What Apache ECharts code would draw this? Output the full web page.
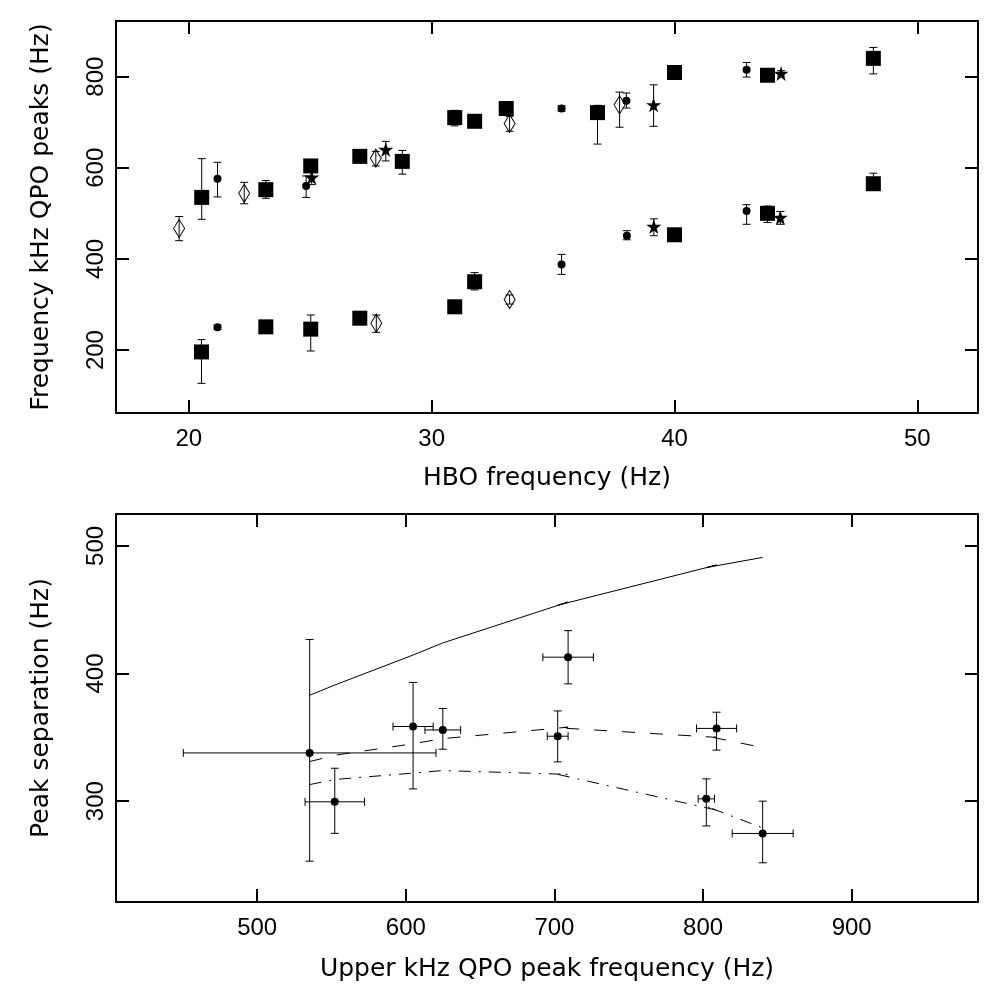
<!DOCTYPE html>
<html><head><meta charset="utf-8">
<script src="https://cdn.jsdelivr.net/npm/echarts@6/dist/echarts.min.js"></script>
<style>html,body{margin:0;padding:0;background:#fff}#c{width:992px;height:990px}</style>
</head><body><div id="c"></div>
<script>
// ---- Top panel: [HBO freq, kHz QPO peak, errLow, errHigh] ----
const squaresUpper = [
  [20.53, 535, 487, 620], [23.17, 552, 533, 572], [25.02, 604, 604, 604], [27.04, 625, 625, 625],
  [28.79, 614, 586, 638], [30.95, 710, 692, 726], [31.77, 702, 702, 702], [33.07, 730, 730, 730],
  [36.83, 721, 652, 737], [40.0, 809, 809, 809], [43.83, 803, 803, 803], [48.19, 840, 806, 864]
];
const squaresLower = [
  [20.52, 196, 127, 223], [23.17, 251, 244, 258], [25.02, 246, 198, 277], [27.04, 270, 270, 270],
  [30.95, 295, 295, 295], [31.77, 350, 332, 370], [40.0, 453, 453, 453], [43.83, 500, 480, 516],
  [48.19, 565, 565, 588]
];
const circlesUpper = [
  [21.18, 576, 536, 612], [24.83, 560, 535, 582], [35.35, 730, 724, 736], [38.02, 747, 731, 764],
  [42.97, 815, 799, 831]
];
const circlesLower = [
  [21.18, 250, 245, 255], [35.35, 388, 366, 410], [38.04, 451, 442, 462], [42.97, 505, 476, 519]
];
const diamondsUpper = [
  [19.60, 467, 440, 493], [22.28, 544, 521, 568], [27.70, 621, 604, 636], [33.21, 697, 680, 713],
  [37.74, 738, 689, 766]
];
const diamondsLower = [
  [27.72, 259, 239, 277], [33.21, 311, 301, 321]
];
const starsUpper = [
  [25.06, 579, 563, 603], [28.11, 640, 615, 658], [39.14, 738, 691, 782], [44.39, 807, 801, 813]
];
const starsLower = [
  [39.15, 471, 451, 488], [44.36, 491, 476, 504]
];

// ---- Bottom panel ----
const sepFreq    = [535.3, 552.2, 604.9, 624.9, 709.2, 702.2, 809.1, 802.2, 840.1];
const sepFreqErr = [85, 20, 13.5, 12, 17, 7, 13.5, 5.5, 20.5];
const sepValue   = [337.8, 299.5, 358.5, 355.8, 412.8, 350.9, 357.0, 301.8, 274.7];
const sepLow     = [253, 274.8, 309.6, 340.7, 391.9, 330.8, 340, 280.6, 251.7];
const sepHigh    = [426.7, 325.8, 393, 372.6, 433.6, 370.7, 369.7, 317.5, 300];

const modelFreq  = [535.3, 552.2, 604.9, 624.9, 709.2, 702.2, 809.1, 802.2, 840.1];
const modelSolid = [383, 391, 414.5, 424, 456, 453.5, 485, 483, 491];
const modelDash  = [331, 336, 345, 349, 358, 357.5, 350, 351, 342];
const modelDashDot = [313, 317, 322, 324, 321, 321, 293, 296, 279];

const CAP = 4;

function yErr(params, api) {
  const x = api.value(0), lo = api.value(2), hi = api.value(3);
  if (lo === hi) return { type: 'group', children: [] };
  const a = api.coord([x, lo]), b = api.coord([x, hi]);
  const st = { stroke: '#000', lineWidth: 1 };
  return { type: 'group', children: [
    { type: 'line', shape: { x1: a[0], y1: a[1], x2: b[0], y2: b[1] }, style: st },
    { type: 'line', shape: { x1: a[0]-CAP, y1: a[1], x2: a[0]+CAP, y2: a[1] }, style: st },
    { type: 'line', shape: { x1: b[0]-CAP, y1: b[1], x2: b[0]+CAP, y2: b[1] }, style: st }
  ]};
}
function xyErr(params, api) {
  const x = api.value(0), y = api.value(1), xe = api.value(2), lo = api.value(3), hi = api.value(4);
  const a = api.coord([x, lo]), b = api.coord([x, hi]);
  const l = api.coord([x - xe, y]), r = api.coord([x + xe, y]);
  const st = { stroke: '#000', lineWidth: 1 };
  return { type: 'group', children: [
    { type: 'line', shape: { x1: a[0], y1: a[1], x2: b[0], y2: b[1] }, style: st },
    { type: 'line', shape: { x1: a[0]-CAP, y1: a[1], x2: a[0]+CAP, y2: a[1] }, style: st },
    { type: 'line', shape: { x1: b[0]-CAP, y1: b[1], x2: b[0]+CAP, y2: b[1] }, style: st },
    { type: 'line', shape: { x1: l[0], y1: l[1], x2: r[0], y2: r[1] }, style: st },
    { type: 'line', shape: { x1: l[0], y1: l[1]-CAP, x2: l[0], y2: l[1]+CAP }, style: st },
    { type: 'line', shape: { x1: r[0], y1: r[1]-CAP, x2: r[0], y2: r[1]+CAP }, style: st }
  ]};
}

const axLine = { show: true, lineStyle: { color: '#000', width: 2 } };
const axTick = { show: true, inside: true, length: 13, lineStyle: { color: '#000', width: 2 } };
const tickTxt = { color: '#000', fontFamily: 'Liberation Sans', fontSize: 24 };
const titleTxt = { color: '#000', fontFamily: 'DejaVu Sans', fontSize: 25 };

function mainX(grid, min, max, step, name, gap) {
  return { type: 'value', gridIndex: grid, min: min, max: max, minInterval: step, maxInterval: step,
    position: 'bottom', axisLine: axLine, axisTick: axTick, splitLine: { show: false },
    axisLabel: Object.assign({ margin: 14, showMinLabel: false, showMaxLabel: false }, tickTxt),
    name: name, nameLocation: 'middle', nameGap: gap, nameTextStyle: titleTxt };
}
function mainY(grid, min, max, step, name, gap) {
  return { type: 'value', gridIndex: grid, min: min, max: max, minInterval: step, maxInterval: step,
    position: 'left', axisLine: axLine, axisTick: axTick, splitLine: { show: false },
    axisLabel: Object.assign({ margin: 8, rotate: 90, showMinLabel: false, showMaxLabel: false }, tickTxt),
    name: name, nameLocation: 'middle', nameGap: gap, nameRotate: 90, nameTextStyle: titleTxt };
}
function mirror(kind, grid, min, max, step) {
  return { type: 'value', gridIndex: grid, min: min, max: max, minInterval: step, maxInterval: step,
    position: kind, axisLine: axLine, axisTick: axTick, axisLabel: { show: false }, splitLine: { show: false } };
}

const starPath = 'path://M50,0 L61,35 L98,35 L68,57 L79,91 L50,70 L21,91 L32,57 L2,35 L39,35 Z';
const diamondPath = 'path://M50,0 L100,50 L50,100 L0,50 Z';

function errSeries(data, xi, yi) {
  return { type: 'custom', xAxisIndex: xi, yAxisIndex: yi, data: data, renderItem: yErr,
    encode: { x: 0, y: 1 }, z: 1, silent: true, clip: false };
}
function pts(data, xi, yi, symbol, size, style) {
  return { type: 'scatter', xAxisIndex: xi, yAxisIndex: yi, data: data.map(d => [d[0], d[1]]),
    symbol: symbol, symbolSize: size, itemStyle: style, z: 3, silent: true };
}
const black = { color: '#000', opacity: 1 };
const hollow = { color: 'rgba(255,255,255,0)', borderColor: '#000', borderWidth: 1, opacity: 1 };

const series = [];
[squaresUpper, squaresLower, circlesUpper, circlesLower, diamondsUpper, diamondsLower, starsUpper, starsLower]
  .forEach(d => series.push(errSeries(d, 0, 0)));
series.push(pts(squaresUpper, 0, 0, 'rect', 15, black));
series.push(pts(squaresLower, 0, 0, 'rect', 15, black));
series.push(pts(circlesUpper, 0, 0, 'circle', 8, black));
series.push(pts(circlesLower, 0, 0, 'circle', 8, black));
series.push(pts(diamondsUpper, 0, 0, diamondPath, [11, 18], hollow));
series.push(pts(diamondsLower, 0, 0, diamondPath, [11, 18], hollow));
series.push(pts(starsUpper, 0, 0, starPath, 15, black));
series.push(pts(starsLower, 0, 0, starPath, 15, black));

// bottom
const sepRows = sepFreq.map((f, i) => [f, sepValue[i], sepFreqErr[i], sepLow[i], sepHigh[i]]);
series.push({ type: 'custom', xAxisIndex: 2, yAxisIndex: 2, data: sepRows, renderItem: xyErr,
  encode: { x: 0, y: 1 }, z: 1, silent: true, clip: false });
series.push({ type: 'scatter', xAxisIndex: 2, yAxisIndex: 2, data: sepFreq.map((f, i) => [f, sepValue[i]]),
  symbol: 'circle', symbolSize: 8, itemStyle: black, z: 3, silent: true });
function modelLine(vals, type) {
  return { type: 'line', xAxisIndex: 2, yAxisIndex: 2, data: modelFreq.map((f, i) => [f, vals[i]]),
    showSymbol: false, symbol: 'none', lineStyle: { color: '#000', width: 1, type: type }, z: 2, silent: true };
}
series.push(modelLine(modelSolid, 'solid'));
series.push(modelLine(modelDash, [13, 15]));
series.push(modelLine(modelDashDot, [12, 8, 2, 8]));

const option = {
  animation: false,
  backgroundColor: '#fff',
  grid: [
    { left: 116, top: 21, width: 862, height: 392 },
    { left: 116, top: 514, width: 862, height: 388 }
  ],
  xAxis: [
    mainX(0, 17, 52.5, 10, 'HBO frequency (Hz)', 53),
    mirror('top', 0, 17, 52.5, 10),
    mainX(1, 405, 985, 100, 'Upper kHz QPO peak frequency (Hz)', 55),
    mirror('top', 1, 405, 985, 100)
  ],
  yAxis: [
    mainY(0, 62, 922, 200, 'Frequency kHz QPO peaks (Hz)', 62),
    mirror('right', 0, 62, 922, 200),
    mainY(1, 221, 525, 100, 'Peak separation (Hz)', 62),
    mirror('right', 1, 221, 525, 100)
  ],
  series: series
};
const chart = echarts.init(document.getElementById('c'), null, { renderer: 'canvas' });
chart.setOption(option);
</script>
</body></html>
